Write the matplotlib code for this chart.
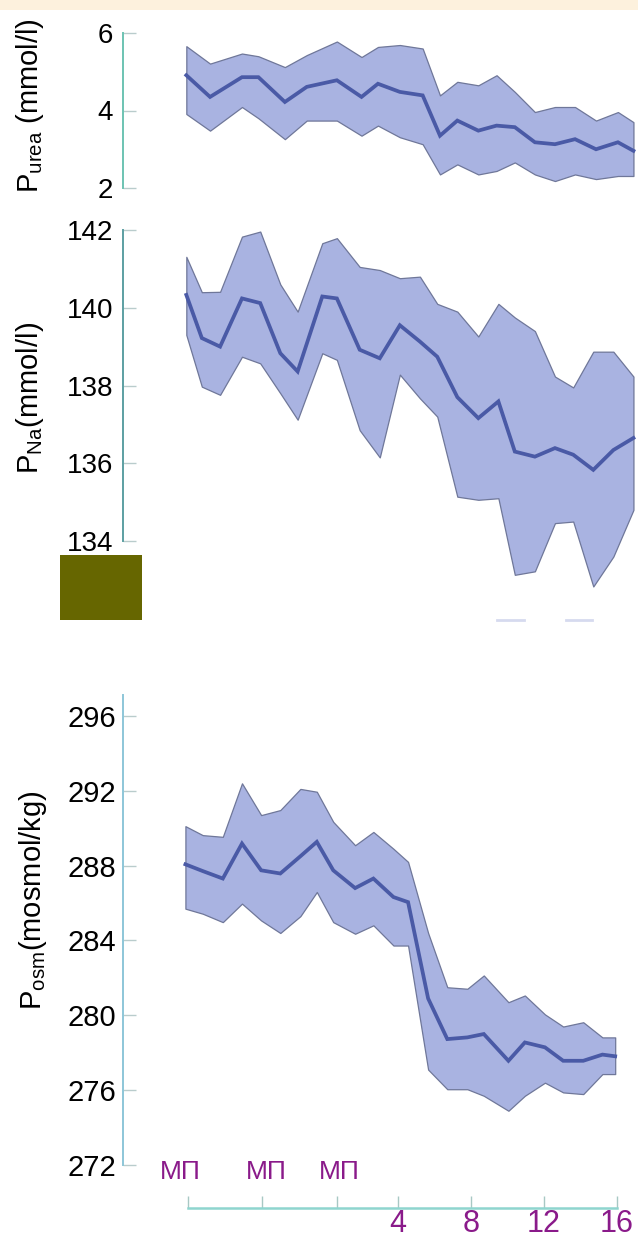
"""Plasma urea, sodium and osmolality over time (mean with range band)."""

import matplotlib

matplotlib.use("Agg")
import matplotlib.pyplot as plt
from matplotlib.patches import Rectangle
from matplotlib.lines import Line2D

plt.rcParams["font.family"] = ["Liberation Sans", "DejaVu Sans"]
plt.rcParams["mathtext.fontset"] = "custom"
plt.rcParams["mathtext.rm"] = "Liberation Sans"
plt.rcParams["mathtext.it"] = "Liberation Sans:italic"

# time in hours (negative side = three MП sessions before hour 0)
urea_t = [-7.6, -6.3, -4.55, -3.65, -2.2, -1.0, 0.65, 2.0, 2.9, 4.1, 5.35,
          6.3, 7.25, 8.4, 9.4, 10.4, 11.5, 12.6, 13.7, 14.85, 16.05, 16.9]
urea_hi = [5.66, 5.21, 5.47, 5.40, 5.12, 5.43, 5.78, 5.38, 5.64, 5.69, 5.60,
           4.39, 4.74, 4.65, 4.91, 4.48, 3.96, 4.09, 4.09, 3.74, 3.96, 3.70]
urea_mean = [4.91, 4.35, 4.86, 4.86, 4.22, 4.61, 4.78, 4.35, 4.69, 4.48, 4.39,
             3.35, 3.74, 3.48, 3.61, 3.57, 3.18, 3.13, 3.26, 3.00, 3.18, 2.96]
urea_lo = [3.91, 3.48, 4.09, 3.80, 3.26, 3.74, 3.74, 3.35, 3.61, 3.31, 3.13,
           2.35, 2.61, 2.35, 2.44, 2.66, 2.35, 2.18, 2.35, 2.23, 2.31, 2.31]

na_t = [-7.6, -6.75, -5.75, -4.55, -3.55, -2.45, -1.5, -0.15, 0.65, 1.9, 3.0,
        4.1, 5.2, 6.15, 7.25, 8.4, 9.5, 10.4, 11.5, 12.6, 13.6, 14.7, 15.8, 16.9]
na_hi = [141.31, 140.40, 140.41, 141.83, 141.96, 140.60, 139.90, 141.66,
         141.79, 141.05, 140.97, 140.76, 140.80, 140.10, 139.90, 139.26,
         140.10, 139.75, 139.40, 138.23, 137.95, 138.87, 138.87, 138.23]
na_mean = [140.33, 139.22, 139.00, 140.24, 140.12, 138.83, 138.36, 140.29,
           140.24, 138.92, 138.70, 139.55, 139.13, 138.74, 137.70, 137.16,
           137.59, 136.30, 136.17, 136.39, 136.22, 135.83, 136.34, 136.65]
na_lo = [139.30, 137.97, 137.76, 138.74, 138.57, 137.80, 137.12, 138.83,
         138.66, 136.85, 136.15, 138.28, 137.67, 137.20, 135.14, 135.06,
         135.10, 133.13, 133.22, 134.46, 134.50, 132.83, 133.60, 134.80]

osm_t = [-7.65, -6.7, -5.6, -4.55, -3.5, -2.45, -1.35, -0.45, 0.45, 1.65, 2.65,
         3.75, 4.55, 5.65, 6.7, 7.8, 8.7, 10.05, 10.95, 12.05, 13.05, 14.15,
         15.2, 15.9]
osm_hi = [290.11, 289.63, 289.54, 292.40, 290.70, 290.97, 292.10, 291.95,
          290.34, 289.09, 289.80, 288.90, 288.20, 284.40, 281.50, 281.42,
          282.13, 280.70, 281.06, 280.05, 279.40, 279.63, 278.82, 278.82]
osm_mean = [288.07, 287.71, 287.31, 289.18, 287.75, 287.58, 288.50, 289.27,
            287.75, 286.80, 287.31, 286.32, 286.05, 280.90, 278.73, 278.82,
            279.00, 277.57, 278.55, 278.29, 277.57, 277.57, 277.90, 277.81]
osm_lo = [285.70, 285.43, 284.98, 285.97, 285.07, 284.40, 285.30, 286.59,
          284.98, 284.36, 284.81, 283.73, 283.73, 277.10, 276.05, 276.05,
          275.70, 274.90, 275.70, 276.40, 275.88, 275.79, 276.86, 276.86]

mp_ticks = [-7.5, -3.45, 0.65]
mp_labels = ["МП", "МП", "МП"]
mp_label_x = [-7.95, -3.2, 0.8]
hour_ticks = [4, 8, 12, 16]
hour_labels = ["4", "8", "12", "16"]

FILL = "#a9b3e1"
EDGE = "#6f7799"
LINE = "#4a5aa6"
PURPLE = "#8a1a8a"
XLIM = (-11.07, 17.15)


def _band(ax, t, lo, mid, hi):
    band = ax.fill_between(t, lo, hi, facecolor=FILL, edgecolor=EDGE, linewidth=0.9)
    band.set_clip_on(False)
    ax.plot(t, mid, color=LINE, linewidth=2.7, solid_joinstyle="miter", clip_on=False)


def _style(ax, spine_color, ticks, ylim, size, pad):
    ax.set_xlim(*XLIM)
    ax.set_ylim(*ylim)
    ax.set_facecolor("none")
    for side in ("top", "right", "bottom"):
        ax.spines[side].set_visible(False)
    ax.spines["left"].set_color(spine_color)
    ax.spines["left"].set_linewidth(1.4)
    ax.set_yticks(ticks)
    ax.tick_params(axis="y", direction="in", length=9, width=1.0,
                   color="#b9cccc", labelsize=size, pad=pad)
    ax.set_xticks([])


fig = plt.figure(figsize=(6.38, 12.40), dpi=100)
W, H = 638.0, 1240.0

fig.patches.append(Rectangle((0, 1 - 10 / H), 1, 10 / H, transform=fig.transFigure,
                             facecolor="#fdf1dd", edgecolor="none", zorder=0))
fig.patches.append(Rectangle((60 / W, 1 - 620 / H), 82 / W, 65 / H,
                             transform=fig.transFigure, facecolor="#666600",
                             edgecolor="none", zorder=0))
for x0, x1 in ((497, 524), (566, 592)):
    fig.lines.append(Line2D([x0 / W, x1 / W], [1 - 620 / H] * 2, transform=fig.transFigure,
                            color="#d6daef", linewidth=2))

left = 123 / W
width = 1 - left

ax_u = fig.add_axes([left, 1 - 188 / H, width, 155 / H])
_band(ax_u, urea_t, urea_lo, urea_mean, urea_hi)
_style(ax_u, "#6cc3b2", [2, 4, 6], (2, 6), 20, 7)

ax_na = fig.add_axes([left, 1 - 541 / H, width, 311 / H])
_band(ax_na, na_t, na_lo, na_mean, na_hi)
_style(ax_na, "#5c9fa2", [134, 136, 138, 140, 142], (134, 142), 20, 7)

ax_o = fig.add_axes([left, 1 - 1165 / H, width, 470 / H])
_band(ax_o, osm_t, osm_lo, osm_mean, osm_hi)
_style(ax_o, "#8dc6d8", [272, 276, 280, 284, 288, 292, 296], (272, 297.12), 21, 5)

# detached time axis under the osmolality panel
ax_o.spines["bottom"].set_visible(True)
ax_o.spines["bottom"].set_position(("outward", 31))
ax_o.spines["bottom"].set_bounds(mp_ticks[0], hour_ticks[-1])
ax_o.spines["bottom"].set_color("#8fd5cf")
ax_o.spines["bottom"].set_linewidth(1.8)
ax_o.set_xticks(mp_ticks + hour_ticks)
ax_o.set_xticklabels([""] * len(mp_ticks) + hour_labels)
ax_o.tick_params(axis="x", direction="in", length=9, width=1.0, color="#a8c8c4",
                 labelsize=22, labelcolor=PURPLE, pad=1)
for pos, lab in zip(mp_label_x, mp_labels):
    ax_o.annotate(lab, xy=(pos, 0), xycoords=("data", "axes fraction"),
                  xytext=(0, -5), textcoords="offset points",
                  ha="center", va="center", fontsize=19, color=PURPLE)

fig.text(30 / W, 1 - 106 / H, r"P$_{\mathrm{urea}}$ (mmol/l)", rotation=90,
         ha="center", va="center", fontsize=21)
fig.text(30 / W, 1 - 398 / H, r"P$_{\mathrm{Na}}$(mmol/l)", rotation=90,
         ha="center", va="center", fontsize=21)
fig.text(33 / W, 1 - 900 / H, r"P$_{\mathrm{osm}}$(mosmol/kg)", rotation=90,
         ha="center", va="center", fontsize=21)

fig.savefig("out.png", dpi=100)
